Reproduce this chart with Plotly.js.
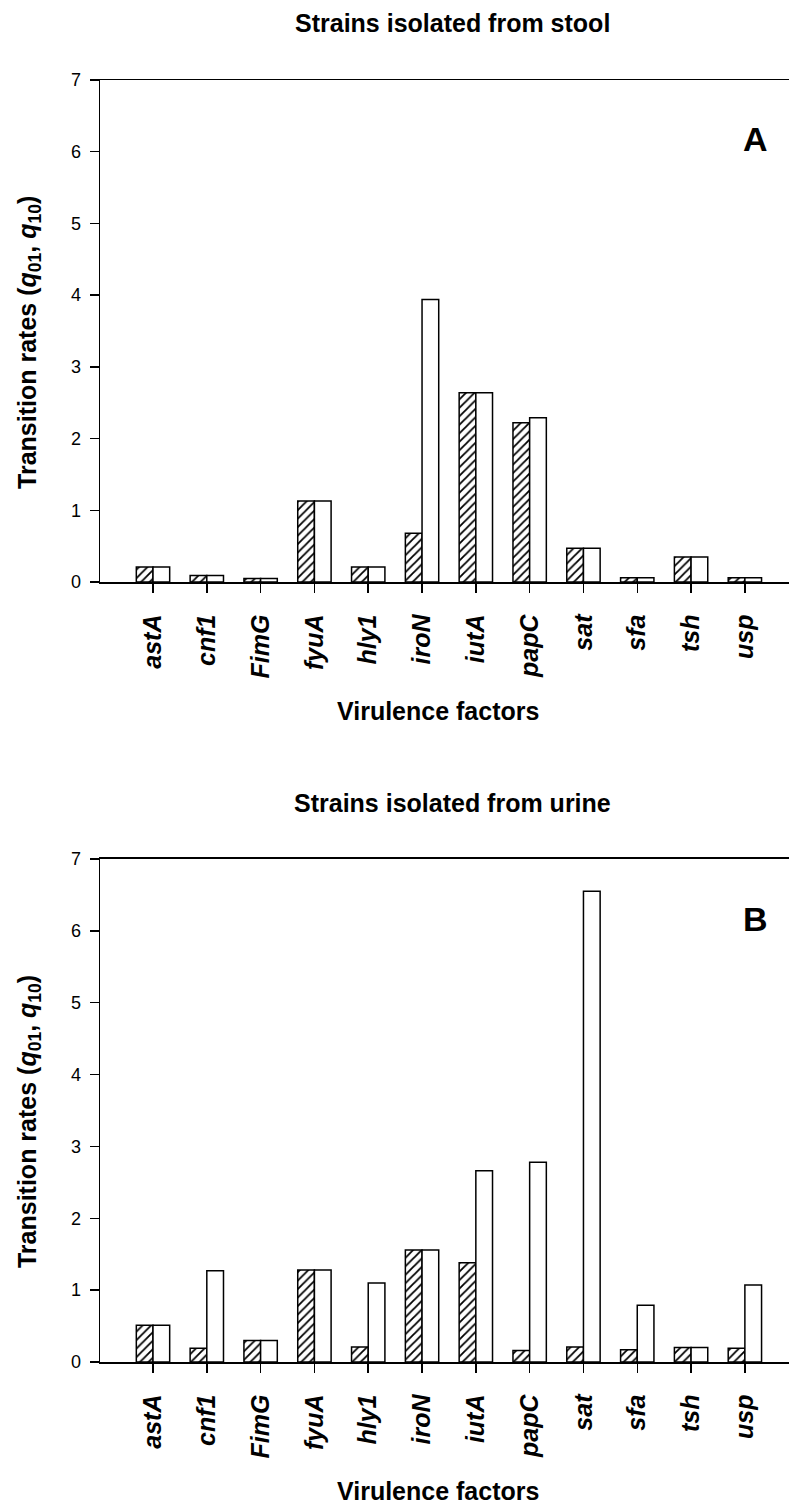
<!DOCTYPE html>
<html>
<head>
<meta charset="utf-8">
<script src="https://cdn.plot.ly/plotly-3.0.1.min.js"></script>
<style>
html,body{margin:0;padding:0;background:#fff;}
#chart{width:789px;height:1508px;}
</style>
</head>
<body>
<div id="chart"></div>
<script>
// ---- data ----
var factors = ["astA","cnf1","FimG","fyuA","hly1","iroN","iutA","papC","sat","sfa","tsh","usp"];
var stoolQ01 = [0.21,0.09,0.05,1.13,0.21,0.68,2.64,2.22,0.47,0.06,0.35,0.06];
var stoolQ10 = [0.21,0.09,0.05,1.13,0.21,3.94,2.64,2.29,0.47,0.06,0.35,0.06];
var urineQ01 = [0.51,0.19,0.30,1.28,0.21,1.56,1.38,0.16,0.21,0.17,0.20,0.19];
var urineQ10 = [0.51,1.27,0.30,1.28,1.10,1.56,2.66,2.78,6.55,0.79,0.20,1.07];
var yTicks = [0,1,2,3,4,5,6,7];
var panelTitles = ["Strains isolated from stool","Strains isolated from urine"];
var panelLetters = ["A","B"];
var xTitle = "Virulence factors";
var yTitle = "Transition rates (<i>q</i><sub>01</sub>, <i>q</i><sub>10</sub>)";

var idx = factors.map(function(_, i){ return i; });
var sans = "Liberation Sans, Arial, sans-serif";

function hatched(y, xa, ya){
  return {type:'bar', x: idx, y: y, xaxis: xa, yaxis: ya, showlegend:false,
    marker:{color:'white', line:{color:'black', width:1.5},
      pattern:{shape:'/', fgcolor:'black', bgcolor:'white', size:6, solidity:0.3}},
    hoverinfo:'skip'};
}
function plain(y, xa, ya){
  return {type:'bar', x: idx, y: y, xaxis: xa, yaxis: ya, showlegend:false,
    marker:{color:'white', line:{color:'black', width:1.5}}, hoverinfo:'skip'};
}

var data = [
  hatched(stoolQ01,'x','y'), plain(stoolQ10,'x','y'),
  hatched(urineQ01,'x2','y2'), plain(urineQ10,'x2','y2')
];

function xaxisDef(anchor){
  return {anchor: anchor, domain:[0,1], range:[-0.985, 11.82],
    tickmode:'array', tickvals: idx, ticktext: factors,
    tickangle:-90, ticks:'outside', ticklen:9, tickwidth:1.5, tickcolor:'black',
    ticklabelstandoff:12,
    showline:true, linecolor:'black', linewidth:1.5, mirror:true,
    showgrid:false, zeroline:false, fixedrange:true,
    tickfont:{family: sans, size:25, color:'black', weight:'bold', style:'italic'}
  };
}
function yaxisDef(anchor, domain){
  return {anchor: anchor, domain: domain, range:[0,7],
    tickmode:'array', tickvals: yTicks,
    ticks:'outside', ticklen:9, tickwidth:1.5, tickcolor:'black',
    ticklabelstandoff:5,
    showline:true, linecolor:'black', linewidth:1.5, mirror:false,
    showgrid:false, zeroline:false, fixedrange:true,
    tickfont:{family: sans, size:18, color:'black'}
  };
}

var boldFont = {family: sans, size:25, color:'black', weight:'bold'};
function txt(text, x, y, extra){
  var a = {text: text, xref:'paper', yref:'paper', x:x, y:y, xanchor:'center', yanchor:'middle',
    showarrow:false, font: boldFont};
  for (var k in extra) a[k] = extra[k];
  return a;
}

var layout = {
  width:789, height:1508,
  margin:{l:100, r:0, t:80, b:146},
  paper_bgcolor:'white', plot_bgcolor:'white',
  barmode:'group', bargap:0.38, bargroupgap:0,
  font:{family: sans, color:'black'},
  xaxis: xaxisDef('y'),
  yaxis: yaxisDef('x', [0.6084, 1]),
  xaxis2: xaxisDef('y2'),
  yaxis2: yaxisDef('x2', [0, 0.3924]),
  annotations:[
    txt(panelTitles[0], 0.5123, 1.0445, {}),
    txt(panelTitles[1], 0.5123, 0.436, {}),
    txt(xTitle, 0.4906, 0.5078, {}),
    txt(xTitle, 0.4906, -0.1006, {}),
    txt(yTitle, -0.103, 0.7949, {textangle:-90}),
    txt(yTitle, -0.103, 0.1872, {textangle:-90}),
    {text: panelLetters[0], xref:'x', yref:'y', x:11.19, y:6.18, xanchor:'center', yanchor:'middle',
      showarrow:false, font:{family: sans, size:34, color:'black', weight:'bold'}},
    {text: panelLetters[1], xref:'x2', yref:'y2', x:11.19, y:6.17, xanchor:'center', yanchor:'middle',
      showarrow:false, font:{family: sans, size:34, color:'black', weight:'bold'}}
  ]
};

Plotly.newPlot('chart', data, layout, {staticPlot:true, displayModeBar:false});
</script>
</body>
</html>
